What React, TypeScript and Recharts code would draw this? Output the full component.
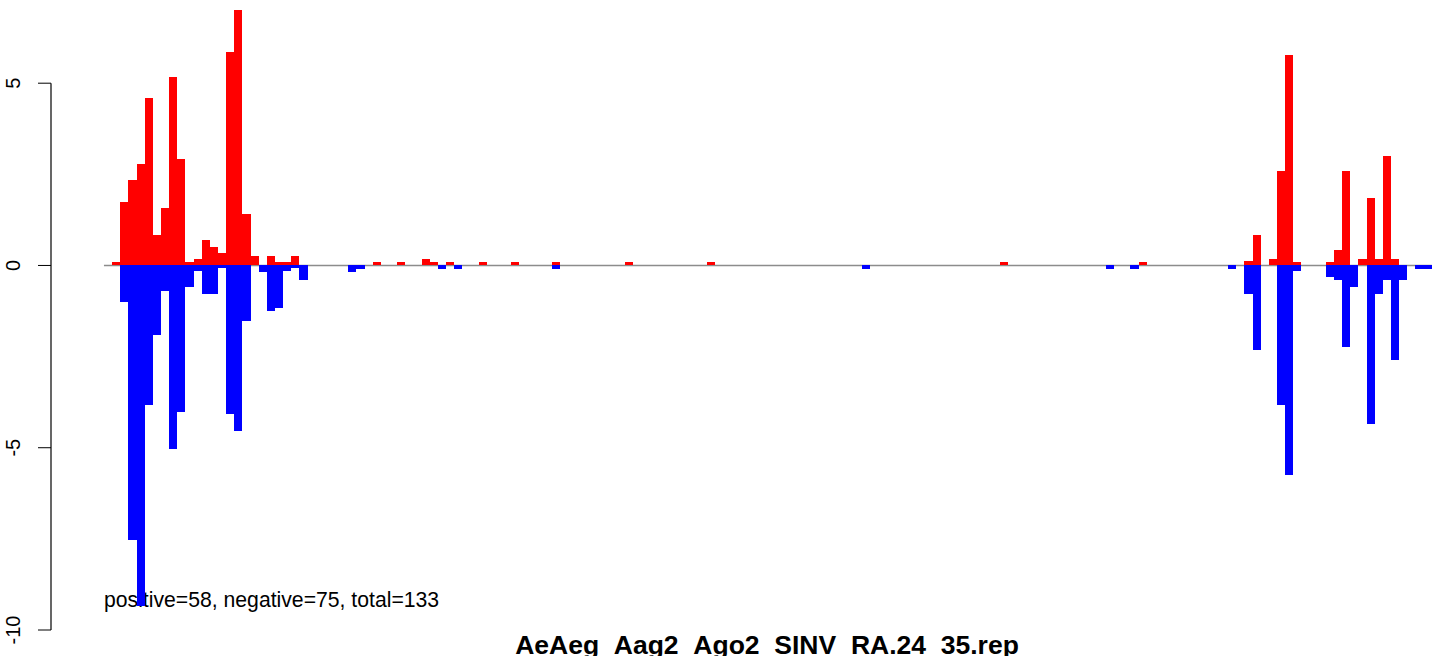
import React from 'react';
import { BarChart, Bar, XAxis, YAxis, ReferenceLine } from 'recharts';

// bin index along the sequence, and the signed values
const bins = [
  1, 2, 3, 4, 5, 6, 7, 8, 9, 10, 11, 12, 13, 14, 15, 16, 17, 18, 19, 20, 21, 22, 23, 24,
  30, 31, 33, 36, 39, 40, 41, 42, 43, 46, 50, 55, 64, 74, 93, 110, 123, 126, 127, 138,
  140, 141, 143, 144, 145, 146, 150, 151, 152, 153, 154, 155, 156, 157, 158, 159, 161, 162,
];
const positive = [
  0.1, 1.75, 2.35, 2.77, 4.6, 0.84, 1.58, 5.17, 2.93, 0.1, 0.19, 0.69, 0.51, 0.35, 5.86, 7.01, 1.42, 0.27, 0, 0.27, 0.1, 0.1, 0.27, 0,
  0, 0, 0.1, 0.1, 0.18, 0.1, 0, 0.1, 0, 0.1, 0.1, 0.1, 0.1, 0.1, 0, 0.1, 0, 0, 0.1, 0,
  0.11, 0.84, 0.18, 2.6, 5.78, 0.1, 0.1, 0.43, 2.6, 0, 0.18, 1.86, 0.18, 3.01, 0.18, 0, 0, 0,
];
const negative = [
  0, -1.01, -7.52, -9.35, -3.84, -1.92, -0.69, -5.03, -4.01, -0.58, -0.16, -0.77, -0.77, -0.08, -4.08, -4.53, -1.52, 0, -0.17, -1.26, -1.18, -0.16, -0.08, -0.41,
  -0.17, -0.09, 0, 0, 0, 0, -0.09, 0, -0.09, 0, 0, -0.09, 0, 0, -0.09, 0, -0.09, -0.09, 0, -0.09,
  -0.77, -2.33, 0, -3.84, -5.76, -0.16, -0.33, -0.41, -2.25, -0.58, 0, -4.36, -0.77, -0.41, -2.6, -0.41, -0.09, -0.09,
];
const yTicks = [-10, -5, 0, 5];
const firstBin = 0;
const lastBin = 162;

const title = 'AeAeg_Aag2_Ago2_SINV_RA.24_35.rep';
const note = 'positive=58, negative=75, total=133';

const font = '"Liberation Sans", Arial, Helvetica, sans-serif';

const data = bins.map((bin, i) => ({ bin, pos: positive[i], neg: negative[i] }));

function YTick({ x, y, payload }: any) {
  return (
    <text
      transform={`translate(${x - 16},${y}) rotate(-90)`}
      textAnchor="middle"
      fontSize={20}
      fontFamily={font}
      fill="#000"
    >
      {String(payload.value)}
    </text>
  );
}

export default function App() {
  return (
    <div style={{ position: 'absolute', left: 0, top: 0, width: 1444, height: 656, background: '#fff', overflow: 'hidden' }}>
      <svg width={1444} height={656} style={{ position: 'absolute', left: 0, top: 0 }}>
        <text x={104} y={607} fontSize={21.2} fontFamily={font} fill="#000">
          {note}
        </text>
        <text x={767} y={654} fontSize={26.5} fontWeight="bold" fontFamily={font} textAnchor="middle" fill="#000">
          {title}
        </text>
      </svg>
      <div style={{ position: 'absolute', left: 0, top: 0 }}>
        <BarChart
          width={1444}
          height={656}
          data={data}
          stackOffset="sign"
          barCategoryGap={0}
          margin={{ top: 3, right: 0, bottom: 26, left: 0 }}
        >
          <XAxis type="number" dataKey="bin" domain={[-7, 164]} hide allowDataOverflow />
          <YAxis
            type="number"
            domain={[-10, 7.2]}
            ticks={yTicks}
            allowDataOverflow
            width={51}
            axisLine={false}
            tickLine={{ stroke: '#000', strokeWidth: 1 }}
            tickSize={13}
            tick={<YTick />}
            interval={0}
          />
          <ReferenceLine
            segment={[{ x: firstBin - 0.5, y: 0 }, { x: lastBin + 0.5, y: 0 }]}
            stroke="#8c8c8c"
            strokeWidth={1.5}
            zIndex={100}
          />
          <ReferenceLine
            segment={[{ x: -7, y: 5 }, { x: -7, y: -10 }]}
            stroke="#000"
            strokeWidth={1.2}
          />
          <Bar dataKey="pos" stackId="s" fill="#ff0000" barSize={8.146} isAnimationActive={false} shapeRendering="crispEdges" />
          <Bar dataKey="neg" stackId="s" fill="#0000ff" barSize={8.146} isAnimationActive={false} shapeRendering="crispEdges" />
        </BarChart>
      </div>
    </div>
  );
}
